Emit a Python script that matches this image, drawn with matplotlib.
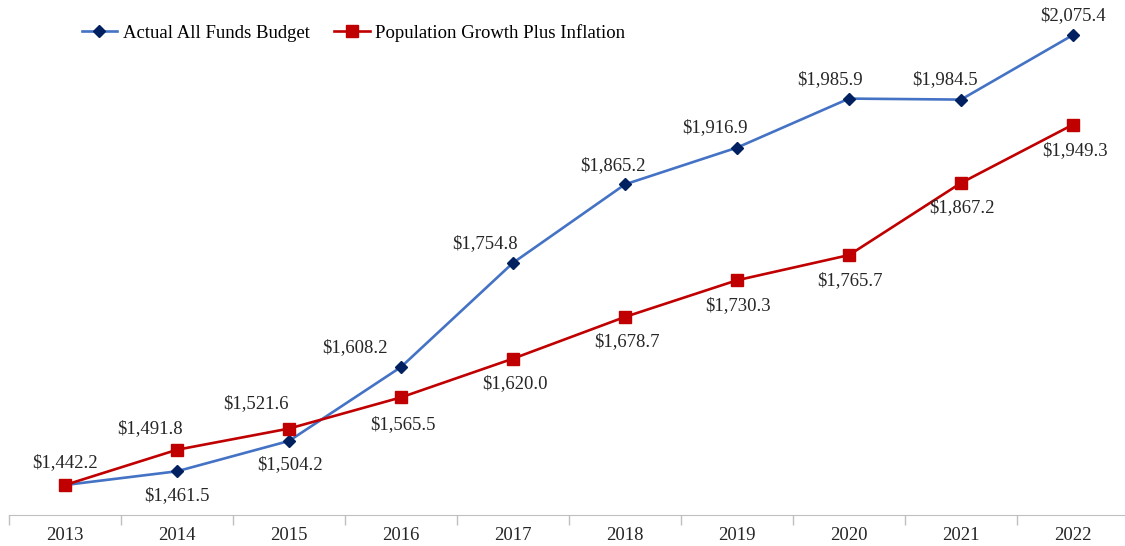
import numpy as np
import matplotlib.pyplot as plt
from matplotlib.ticker import FixedLocator

plt.rcParams['font.family'] = ['Liberation Serif', 'DejaVu Serif']

years = ['2013', '2014', '2015', '2016', '2017', '2018', '2019', '2020', '2021', '2022']
actual = [1442.2, 1461.5, 1504.2, 1608.2, 1754.8, 1865.2, 1916.9, 1985.9, 1984.5, 2075.4]
pop_infl = [1442.2, 1491.8, 1521.6, 1565.5, 1620.0, 1678.7, 1730.3, 1765.7, 1867.2, 1949.3]

# label offsets in pixels (None = no label)
blue_off = [None, (0, -24), (1, -24), (-46, 19), (-28, 19), (-12, 19),
            (-22, 20), (-19, 19), (-16, 20), (0, 19)]
red_off = [(0, 22), (-27, 21), (-33, 25), (2, -27), (2, -25), (2, -25),
           (1, -25), (1, -26), (1, -25), (2, -26)]

blue_line = '#4472C4'
blue_mark = '#002060'
red = '#C00000'

fig = plt.figure(figsize=(11.25, 5.46), dpi=100)
ax = fig.add_axes([9 / 1125, 31 / 546, 1120 / 1125, 497.5 / 546])
x = np.arange(len(years))

ax.plot(x, actual, color=blue_line, lw=1.9, marker='D', ms=6,
        mfc=blue_mark, mec=blue_mark, label='Actual All Funds Budget', zorder=2)
ax.plot(x, pop_infl, color=red, lw=1.9, marker='s', ms=8.5,
        mfc=red, mec=red, label='Population Growth Plus Inflation', zorder=3)

for xi, v, off in zip(x, actual, blue_off):
    if off is None:
        continue
    ax.annotate(f'${v:,.1f}', (xi, v), xytext=off, textcoords='offset pixels',
                ha='center', va='center', fontsize=13.5, color='#262626')
for xi, v, off in zip(x, pop_infl, red_off):
    ax.annotate(f'${v:,.1f}', (xi, v), xytext=off, textcoords='offset pixels',
                ha='center', va='center', fontsize=13.5, color='#262626')

ax.set_xlim(-0.5, len(years) - 0.5)
ax.set_ylim(1400, 2100)
ax.set_xticks(x)
ax.set_xticklabels(years, fontsize=13.5, color='#262626')
ax.xaxis.set_minor_locator(FixedLocator(np.arange(-0.5, len(years), 1)))
ax.tick_params(axis='x', which='major', length=0, pad=9)
ax.tick_params(axis='x', which='minor', length=7, color='#BFBFBF', width=1)
ax.set_yticks([])
for s in ['top', 'right', 'left']:
    ax.spines[s].set_visible(False)
ax.spines['bottom'].set_color('#BFBFBF')

fig.legend(loc='center left', bbox_to_anchor=(74 / 1125, 1 - 33 / 546), ncol=2,
           frameon=False, fontsize=13.5, handlelength=1.9, handletextpad=0.3,
           columnspacing=1.3, borderaxespad=0)

fig.savefig('out.png', dpi=100)
